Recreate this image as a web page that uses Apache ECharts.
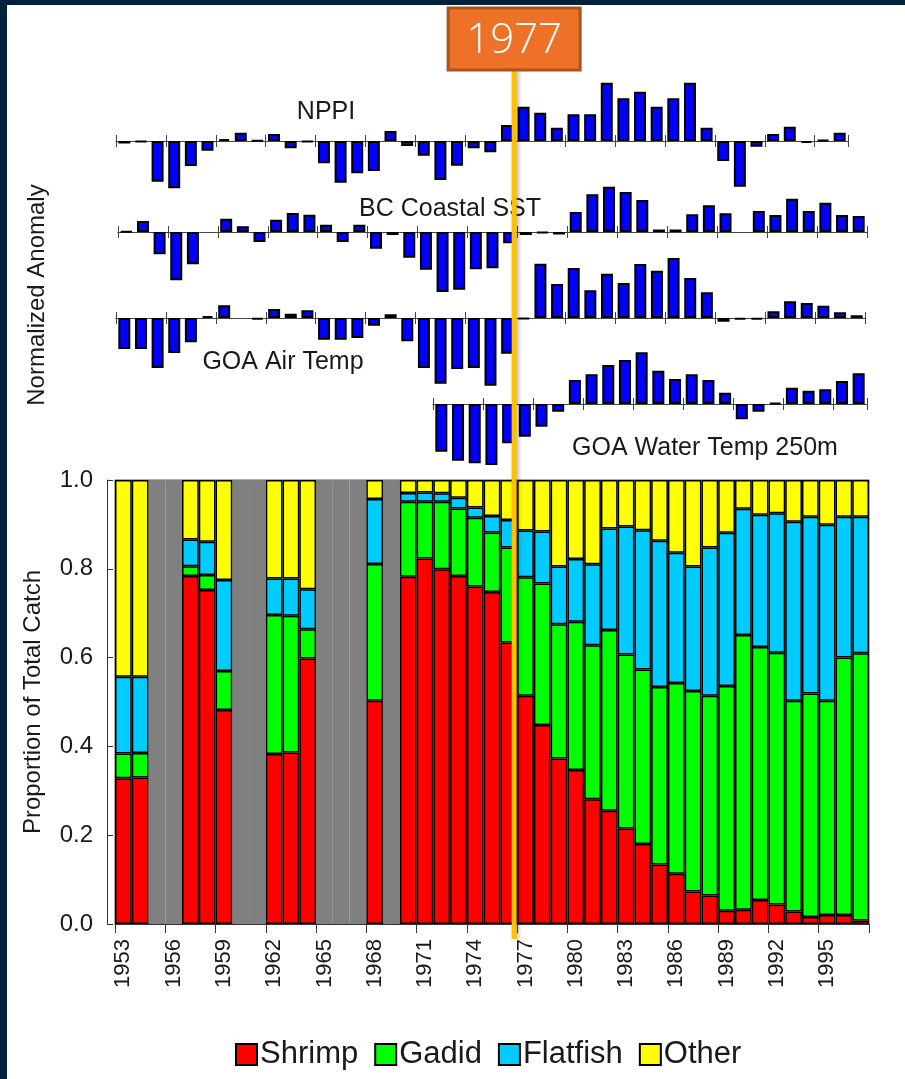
<!DOCTYPE html>
<html><head><meta charset="utf-8">
<script src="https://cdn.jsdelivr.net/npm/echarts@6/dist/echarts.min.js"></script>
<style>
html,body{margin:0;padding:0;background:#01223f;width:905px;height:1079px;overflow:hidden}
#panel{position:absolute;left:7px;top:5px;right:0;bottom:0;background:#fff}
#chart{position:absolute;left:0;top:0;width:905px;height:1079px}
</style></head><body><div id="panel"></div><div id="chart"></div>
<script>
// ---------- categories ----------
const years = ['1953','1954','1955','1956','1957','1958','1959','1960','1961','1962','1963','1964','1965','1966','1967','1968','1969','1970','1971','1972','1973','1974','1975','1976','1977','1978','1979','1980','1981','1982','1983','1984','1985','1986','1987','1988','1989','1990','1991','1992','1993','1994','1995','1996','1997'];
const yearsNPPI = years.slice(0, 44);   // 1953-1996
const yearsWater = years.slice(19);     // 1972-1997

// ---------- normalized anomalies ----------
const nppi = [-0.1,-0.03,-1.63,-1.89,-1.0,-0.39,0.08,0.33,0.02,0.28,-0.29,-0.03,-0.89,-1.67,-1.29,-1.2,0.4,-0.2,-0.59,-1.56,-0.99,-0.29,-0.45,0.64,1.37,1.13,0.53,1.07,1.07,2.33,1.71,1.97,1.37,1.71,2.33,0.53,-0.8,-1.83,-0.23,0.28,0.57,-0.07,0.04,0.33];
const bcSST = [0.03,0.44,-0.89,-1.93,-1.29,null,0.53,0.23,-0.4,0.49,0.76,0.69,0.29,-0.4,0.29,-0.67,-0.12,-1.03,-1.51,-2.4,-2.31,-1.49,-1.45,-0.45,-0.12,-0.03,-0.1,0.8,1.51,1.81,1.6,1.28,0.1,0.1,0.71,1.07,0.75,null,0.84,0.68,1.33,0.84,1.17,0.68,0.64];
const goaAir = [-1.24,-1.24,-2.0,-1.4,-0.97,0.08,0.51,null,-0.05,0.36,0.17,0.31,-0.87,-0.87,-0.8,-0.31,0.15,-0.93,-2.0,-2.63,-2.04,-2.0,-2.71,-1.43,-0.04,2.17,1.36,2.0,1.11,1.77,1.4,2.16,1.89,2.4,1.6,1.03,-0.15,-0.05,-0.05,0.27,0.67,0.6,0.49,0.23,0.11];
const goaWater = [-1.91,-2.27,-2.37,-2.44,-1.57,-1.31,-0.91,-0.31,0.96,1.19,1.56,1.76,2.07,1.33,1.0,1.19,0.96,0.45,-0.61,-0.31,0.05,0.65,0.53,0.59,0.92,1.23];

// ---------- proportion of total catch ----------
const shrimp   = [0.328,0.33,null,null,0.784,0.752,0.482,null,null,0.383,0.386,0.598,null,null,null,0.503,null,0.782,0.823,0.799,0.784,0.76,0.748,0.634,0.514,0.448,0.373,0.347,0.281,0.255,0.215,0.18,0.134,0.113,0.073,0.064,0.03,0.032,0.054,0.044,0.028,0.016,0.02,0.02,0.008];
const gadid    = [0.056,0.055,null,null,0.022,0.034,0.088,null,null,0.313,0.308,0.066,null,null,null,0.308,null,0.169,0.128,0.152,0.152,0.155,0.134,0.214,0.267,0.319,0.302,0.334,0.347,0.407,0.392,0.393,0.4,0.43,0.452,0.45,0.506,0.619,0.57,0.567,0.475,0.503,0.483,0.58,0.602];
const flatfish = [0.173,0.172,null,null,0.06,0.075,0.205,null,null,0.082,0.084,0.09,null,null,null,0.146,null,0.02,0.021,0.019,0.024,0.023,0.037,0.062,0.105,0.117,0.13,0.141,0.182,0.229,0.288,0.314,0.329,0.293,0.28,0.334,0.345,0.284,0.298,0.314,0.403,0.398,0.396,0.317,0.307];
const other    = [0.443,0.443,null,null,0.134,0.139,0.225,null,null,0.222,0.222,0.246,null,null,null,0.043,null,0.029,0.028,0.03,0.04,0.062,0.081,0.09,0.114,0.116,0.195,0.178,0.19,0.109,0.105,0.113,0.137,0.164,0.195,0.152,0.119,0.065,0.078,0.075,0.094,0.083,0.101,0.083,0.083];
const noData   = [null,null,1,1,null,null,null,1,1,null,null,null,1,1,1,null,1,null,null,null,null,null,null,null,null,null,null,null,null,null,null,null,null,null,null,null,null,null,null,null,null,null,null,null,null];

const yTicks = ['0.0','0.2','0.4','0.6','0.8','1.0'];
const legendNames = ['Shrimp','Gadid','Flatfish','Other'];
const panelNames = ['NPPI','BC Coastal SST','GOA Air Temp','GOA Water Temp 250m'];

const FONT = '"Liberation Sans", Arial, sans-serif';
const TXT = '#1a1a1a';

const panels = [
  {cats: yearsNPPI, data: nppi,    grid: {left:116, top:66,  width:732, height:150}},
  {cats: years,     data: bcSST,   grid: {left:118, top:157, width:749, height:150}},
  {cats: years,     data: goaAir,  grid: {left:116, top:243, width:749, height:150}},
  {cats: yearsWater,data: goaWater,grid: {left:433, top:329, width:434, height:150}}
];

const grid = panels.map(p => p.grid).concat([{left:115, top:480, width:754, height:444, show:true, borderColor:'#555', borderWidth:1, backgroundColor:'transparent'}]);
const xAxis = [];
const yAxis = [];
const series = [];
panels.forEach((p, i) => {
  const mk = (inside, yIdx) => ({type:'category', gridIndex:i, position:'bottom', data:p.cats, boundaryGap:true,
    axisLine:{show:true, onZero:true, onZeroAxisIndex:yIdx, lineStyle:{color:'#444', width:1}},
    axisTick:{show:true, inside:inside, length:6, lineStyle:{color:'#444', width:1}},
    axisLabel:{show:false}, splitLine:{show:false}});
  xAxis.push(mk(false, 2*i));
  xAxis.push(mk(true, 2*i+1));
  yAxis.push({type:'value', gridIndex:i, min:-3, max:3, show:false});
  yAxis.push({type:'value', gridIndex:i, min:-3, max:3, show:false});
  series.push({type:'bar', name:panelNames[i], xAxisIndex:2*i, yAxisIndex:2*i, data:p.data, barWidth:'72%',
    itemStyle:{color:'#0000FF', borderColor:'#000', borderWidth:2}, z:3});
});
xAxis.push({type:'category', gridIndex:4, data:years,
  axisLine:{show:true, lineStyle:{color:'#333', width:1}},
  axisTick:{show:true, length:9, lineStyle:{color:'#333', width:1}},
  axisLabel:{interval:2, rotate:90, fontSize:22, margin:15, color:TXT, fontFamily:FONT},
  splitLine:{show:false}});
yAxis.push({type:'value', gridIndex:4, min:0, max:1, interval:0.2, offset:8,
  axisLine:{show:true, lineStyle:{color:'#333', width:1}},
  axisTick:{show:true, inside:true, length:6, lineStyle:{color:'#333'}},
  axisLabel:{fontSize:24, margin:14, color:TXT, fontFamily:FONT, formatter:(v)=>yTicks[Math.round(v*5)]},
  splitLine:{show:false},
  name:'Proportion of Total Catch', nameLocation:'middle', nameGap:62, nameRotate:90,
  nameTextStyle:{fontSize:24, color:TXT, fontFamily:FONT}});

const catchSeries = [[shrimp,'#FF0000'],[gadid,'#00FF00'],[flatfish,'#00CCFF'],[other,'#FFFF00']];
catchSeries.forEach((c, i) => {
  series.push({type:'bar', name:legendNames[i], xAxisIndex:8, yAxisIndex:8, stack:'catch', data:c[0],
    barCategoryGap:'0%', itemStyle:{color:c[1], borderColor:'#000', borderWidth:1.5}, z:3});
});
series.push({type:'bar', name:'no data', xAxisIndex:8, yAxisIndex:8, stack:'catch', data:noData,
  barCategoryGap:'0%', itemStyle:{color:'#808080', borderColor:'#808080', borderWidth:2}, z:2});

const labelPos = [[326,112],[450,209],[283,362],[705,448]];
const graphic = panelNames.map((n, i) => ({type:'text', x:labelPos[i][0], y:labelPos[i][1], z:50,
  style:{text:n, fill:TXT, fontSize:25, fontFamily:FONT, align:'center', verticalAlign:'middle'}}));
graphic.push({type:'text', x:37, y:295, rotation:Math.PI/2, z:50,
  style:{text:'Normalized Anomaly', fill:TXT, fontSize:24, fontFamily:FONT, align:'center', verticalAlign:'middle'}});

const chart = echarts.init(document.getElementById('chart'), null, {renderer:'canvas'});
chart.setOption({
  animation:false,
  backgroundColor:'transparent',
  textStyle:{fontFamily:FONT},
  grid, xAxis, yAxis, series, graphic,
  legend:{data:legendNames, left:230, top:1034, itemWidth:21, itemHeight:21, itemGap:16, icon:'rect',
    itemStyle:{borderColor:'#000', borderWidth:2},
    textStyle:{fontSize:31, color:TXT, fontFamily:FONT, padding:[0,0,0,-2]}}
});

// 1977 regime-shift annotation, positioned from the category axis
const xa = chart.convertToPixel({xAxisIndex:8}, '1976');
const xb = chart.convertToPixel({xAxisIndex:8}, '1977');
const xLine = (xa + xb) / 2 - 3;
chart.setOption({graphic: graphic.concat([
  {type:'line', z:100, shape:{x1:xLine, y1:70, x2:xLine, y2:939},
    style:{stroke:'#FFC000', lineWidth:5, shadowBlur:4, shadowColor:'rgba(0,0,0,0.3)', shadowOffsetX:2}},
  {type:'rect', z:101, shape:{x:xLine-66, y:8, width:132, height:62},
    style:{fill:'#ED7228', stroke:'#A9531D', lineWidth:3}},
  {type:'text', z:102, x:xLine, y:41,
    style:{text:'1977', fill:'#fff', fontSize:42, fontWeight:300, fontFamily:'"Open Sans", sans-serif', align:'center', verticalAlign:'middle'}}
])});
</script></body></html>
